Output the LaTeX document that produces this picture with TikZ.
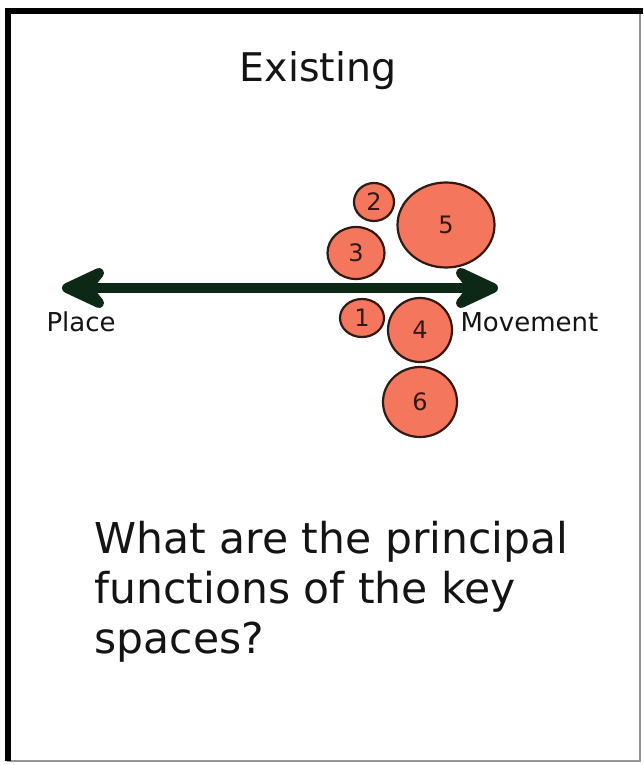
\documentclass[tikz,border=0pt]{standalone}
\usepackage{fontspec}
\setmainfont{DejaVu Sans}
\usepackage{xcolor}
\usepackage{tikz}
\usetikzlibrary{shapes.geometric}
\definecolor{ink}{RGB}{20,20,20}
\definecolor{framegrey}{RGB}{150,150,150}
\definecolor{pine}{RGB}{14,40,24}
\definecolor{salmon}{RGB}{243,118,93}
\definecolor{umber}{RGB}{50,26,20}

\begin{document}
\begin{tikzpicture}[x=1pt, y=-1pt,
    blob/.style={ellipse, draw=umber, line width=2.2pt, fill=salmon,
                 inner sep=0pt, text=umber, font=\fontsize{24}{24}\selectfont},
    axis/.style={draw=pine, line width=10pt},
    chevron/.style={draw=pine, fill=pine, line width=10pt, line cap=round, line join=round},
    endlbl/.style={font=\fontsize{26}{26}\selectfont, text=ink, anchor=base west},
    heading/.style={font=\fontsize{39.5}{39.5}\selectfont, text=ink, anchor=base}
  ]
  \useasboundingbox (0,0) rectangle (643,765);
  % frame
  \draw[framegrey, line width=2pt] (8,11) rectangle (640,761);
  \draw[black, line width=6pt] (8,761) -- (8,11) -- (643,11);

  \node[heading] (title) at (318,82) {Existing};

  % place / movement axis
  \coordinate (placeTip) at (67,288);
  \coordinate (moveTip) at (493,288);
  \draw[axis] (placeTip) -- (moveTip);
  \draw[chevron] ([shift={(32,-15)}]placeTip) -- (placeTip) -- ([shift={(32,15)}]placeTip)
    -- ([shift={(20,0)}]placeTip) -- cycle;
  \draw[chevron] ([shift={(-32,-15)}]moveTip) -- (moveTip) -- ([shift={(-32,15)}]moveTip)
    -- ([shift={(-20,0)}]moveTip) -- cycle;
  \node[endlbl] (place) at (43,331) {Place};
  \node[endlbl] (movement) at (457,331) {Movement};

  % key spaces
  \node[blob, minimum width=40pt, minimum height=38pt] (s2) at (374,202) {2};
  \node[blob, minimum width=97pt, minimum height=85pt] (s5) at (446,225) {5};
  \node[blob, minimum width=57pt, minimum height=52pt] (s3) at (356,253) {3};
  \node[blob, minimum width=44pt, minimum height=38pt] (s1) at (362,318) {1};
  \node[blob, minimum width=64pt, minimum height=64pt] (s4) at (420,330) {4};
  \node[blob, minimum width=74pt, minimum height=70pt] (s6) at (420,402) {6};

  \node[font=\fontsize{42.5}{50}\selectfont, text=ink, align=left, anchor=base west]
    (question) at (91,653) {What are the principal\\functions of the key\\spaces?};
\end{tikzpicture}
\end{document}
